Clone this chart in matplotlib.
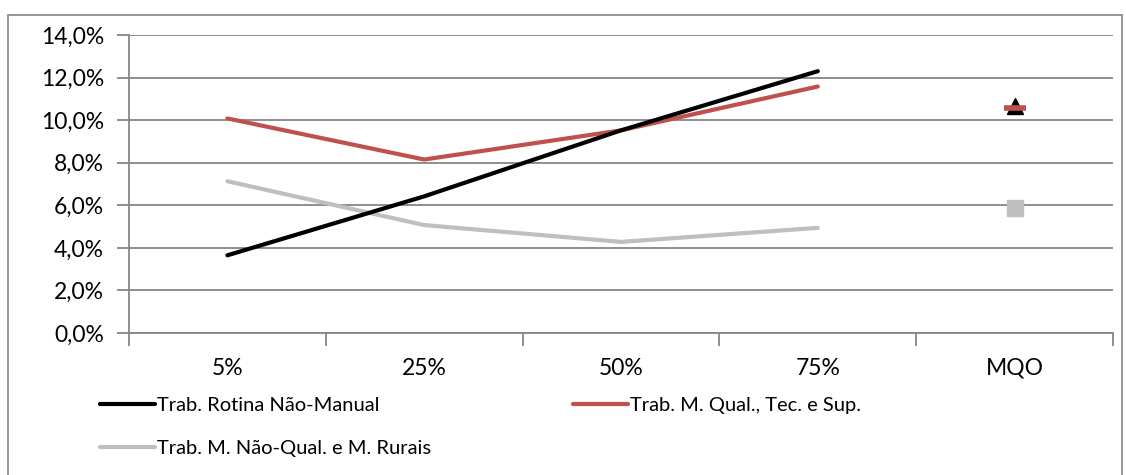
import numpy as np
import matplotlib.pyplot as plt
from matplotlib.patches import Rectangle
from matplotlib.ticker import FuncFormatter

plt.rcParams['font.family'] = ['Lato', 'DejaVu Sans']

categorias = ["5%", "25%", "50%", "75%", "MQO"]
quantis = [0, 1, 2, 3]

rotina_nao_manual = [3.65, 6.42, 9.52, 12.30]
qual_tec_sup = [10.08, 8.15, 9.52, 11.58]
nao_qual_rurais = [7.13, 5.07, 4.28, 4.94]

mqo_rotina = 10.68
mqo_qual = 10.56
mqo_nao_qual = 5.87

preto = "#000000"
vermelho = "#C0504D"
cinza = "#BFBFBF"
grade = "#868686"

fig = plt.figure(figsize=(11.26, 4.75), dpi=100)
fig.patches.append(Rectangle((8 / 1126, -0.05), 1114 / 1126, 1 - 15 / 475 + 0.05,
                             transform=fig.transFigure, fill=False,
                             edgecolor=grade, linewidth=1.2))

ax = fig.add_axes([129 / 1126, 1 - 333 / 475, 984 / 1126, 298 / 475])

l1, = ax.plot(quantis, rotina_nao_manual, color=preto, lw=3, solid_capstyle="round",
              label="Trab. Rotina Não-Manual", zorder=4)
l2, = ax.plot(quantis, qual_tec_sup, color=vermelho, lw=3, solid_capstyle="round",
              label="Trab. M. Qual., Tec. e Sup.", zorder=3)
l3, = ax.plot(quantis, nao_qual_rurais, color=cinza, lw=3, solid_capstyle="round",
              label="Trab. M. Não-Qual. e M. Rurais", zorder=3)

ax.plot([4], [mqo_rotina], marker="^", color=preto, markersize=11, ls="none", zorder=5)
ax.plot([4], [mqo_qual], marker="_", color=vermelho, markersize=16, mew=4, ls="none", zorder=6)
ax.plot([4], [mqo_nao_qual], marker="s", color=cinza, markersize=11, ls="none", zorder=5)

ax.set_xlim(-0.5, 4.5)
ax.set_ylim(0, 14)
ax.set_yticks(np.arange(0, 15, 2))
ax.yaxis.set_major_formatter(FuncFormatter(lambda v, p: f"{v:.1f}%".replace(".", ",")))
ax.grid(axis="y", color=grade, lw=1.3)
ax.set_axisbelow(True)

ax.set_xticks(np.arange(-0.5, 5, 1))
ax.set_xticklabels([])
ax.set_xticks(range(len(categorias)), minor=True)
ax.set_xticklabels(categorias, minor=True)
ax.tick_params(axis="x", which="major", length=9, color=grade, width=1.3)
ax.tick_params(axis="x", which="minor", length=0, pad=18, labelsize=16.5)
ax.tick_params(axis="y", length=9, color=grade, width=1.3, pad=9, labelsize=16.5)

for s in ["top", "right"]:
    ax.spines[s].set_visible(False)
for s in ["left", "bottom"]:
    ax.spines[s].set_color(grade)
    ax.spines[s].set_linewidth(1.3)

fig.legend(handles=[l1, l3, l2], loc="upper left", bbox_to_anchor=(92 / 1126, 1 - 389 / 475),
           ncol=2, frameon=False, fontsize=14.5, handlelength=2.75, handletextpad=0.1,
           columnspacing=7.0, labelspacing=1.27, borderaxespad=0)

fig.savefig("out.png", dpi=100)
